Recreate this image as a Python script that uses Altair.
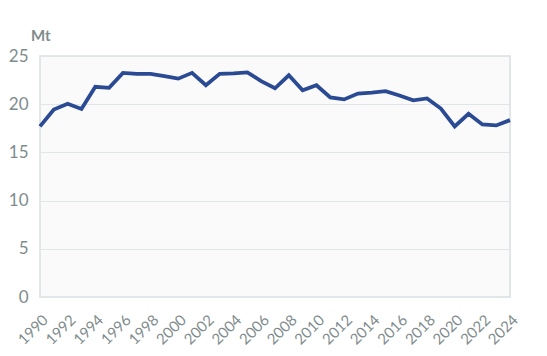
import altair as alt
import pandas as pd

years = list(range(1990, 2025))
values = [17.7, 19.45, 20.05, 19.5, 21.8, 21.7, 23.25, 23.15, 23.15, 22.9,
          22.65, 23.25, 21.97, 23.15, 23.2, 23.3, 22.4, 21.65, 23.0, 21.45,
          21.97, 20.7, 20.5, 21.1, 21.2, 21.35, 20.9, 20.4, 20.6, 19.55,
          17.7, 19.0, 17.9, 17.8, 18.35]
x_ticks = list(range(1990, 2025, 2))
y_ticks = [0, 5, 10, 15, 20, 25]

df = pd.DataFrame({"year": years, "value": values})

grey = "#7f8c8d"

line = alt.Chart(df).mark_line(color="#2a4b94", strokeWidth=3.8).encode(
    x=alt.X("year:Q", scale=alt.Scale(domain=[1990, 2024], nice=False, zero=False),
            axis=alt.Axis(values=x_ticks, format="d", labelAngle=-45, title=None,
                          grid=False, domain=False, ticks=False, labelFontSize=15,
                          labelColor=grey, labelFont="Lato", labelPadding=15,
                          labelFlush=False, labelOverlap=False)),
    y=alt.Y("value:Q", scale=alt.Scale(domain=[0, 25], nice=False),
            axis=alt.Axis(values=y_ticks, title=None, domain=False, ticks=False,
                          gridColor="#e1e6e8", labelFontSize=17, labelColor=grey,
                          labelFont="Lato", labelPadding=12)),
)

title = alt.Chart(pd.DataFrame({"t": ["Mt"]})).mark_text(
    font="Lato", fontSize=15, fontWeight="bold", color=grey, align="left", baseline="middle"
).encode(x=alt.value(-9), y=alt.value(-20), text="t:N")

chart = alt.layer(line, title).properties(
    width=470, height=241,
    autosize=alt.AutoSizeParams(type="none"),
    padding={"left": 32, "top": 48, "right": 29, "bottom": 59},
).configure_view(fill="#fafafa", stroke="#d9dfe2", strokeWidth=1.5)

chart.save("out.html", embed_options={"renderer": "svg", "actions": False})
